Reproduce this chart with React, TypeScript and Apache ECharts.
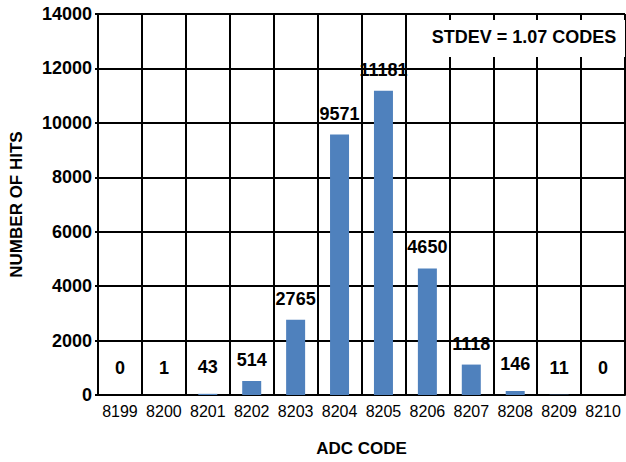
import React, { useEffect, useRef } from "react";
import * as echarts from "echarts";

const categories = ["8199", "8200", "8201", "8202", "8203", "8204", "8205", "8206", "8207", "8208", "8209", "8210"];
const hits = [0, 1, 43, 514, 2765, 9571, 11181, 4650, 1118, 146, 11, 0];
const yTicks = { min: 0, max: 14000, interval: 2000 };
const xTitle = "ADC CODE";
const yTitle = "NUMBER OF HITS";
const noteText = "STDEV = 1.07 CODES";

export default function App() {
  const ref = useRef<HTMLDivElement>(null);
  useEffect(() => {
    if (!ref.current) return;
    const chart = echarts.init(ref.current, null, { renderer: "svg" });
    const font = "'Liberation Sans', Arial, sans-serif";
    chart.setOption({
      animation: false,
      grid: { left: 95, top: 14, right: 1, bottom: 64, containLabel: false },
      xAxis: {
        type: "category",
        data: categories,
        boundaryGap: true,
        name: xTitle,
        nameLocation: "middle",
        nameGap: 45,
        nameTextStyle: { fontFamily: font, fontWeight: "bold", fontSize: 17, color: "#000" },
        axisLine: { show: true, lineStyle: { color: "#000", width: 2 } },
        axisTick: { show: false },
        axisLabel: {
          interval: 0,
          fontFamily: font,
          fontSize: 16,
          color: "#000",
          margin: 8,
        },
        splitLine: { show: true, interval: 0, lineStyle: { color: "#000", width: 2 } },
      },
      yAxis: {
        type: "value",
        min: yTicks.min,
        max: yTicks.max,
        interval: yTicks.interval,
        name: yTitle,
        nameLocation: "middle",
        nameGap: 73,
        nameRotate: 90,
        nameTextStyle: { fontFamily: font, fontWeight: "bold", fontSize: 17, color: "#000" },
        axisLine: { show: true, lineStyle: { color: "#000", width: 2 } },
        axisTick: { show: true, length: 3, lineStyle: { color: "#000", width: 2 } },
        axisLabel: {
          fontFamily: font,
          fontWeight: "bold",
          fontSize: 18,
          color: "#000",
          margin: 6,
          formatter: (v: number) => String(v),
        },
        splitLine: { show: true, lineStyle: { color: "#000", width: 2 } },
      },
      series: [
        {
          type: "bar",
          barWidth: 19,
          itemStyle: { color: "#4f81bd" },
          data: hits.map((v) => ({
            value: v,
            label: { distance: v < 200 ? 18 : 12 },
          })),
          label: {
            show: true,
            position: "top",
            fontFamily: font,
            fontWeight: "bold",
            fontSize: 18,
            color: "#000",
          },
        },
      ],
      graphic: [
        {
          type: "rect",
          shape: { x: 407, y: 20, width: 218, height: 37 },
          style: { fill: "#fff" },
          z: 10,
        },
        {
          type: "text",
          x: 524,
          y: 37,
          style: {
            text: noteText,
            fontFamily: font,
            fontWeight: "bold",
            fontSize: 18,
            fill: "#000",
            align: "center",
            verticalAlign: "middle",
          },
          z: 11,
        },
      ],
    });
    return () => chart.dispose();
  }, []);
  return (
    <div
      ref={ref}
      style={{ position: "fixed", left: 0, top: 0, width: 626, height: 462, background: "#fff" }}
    />
  );
}
